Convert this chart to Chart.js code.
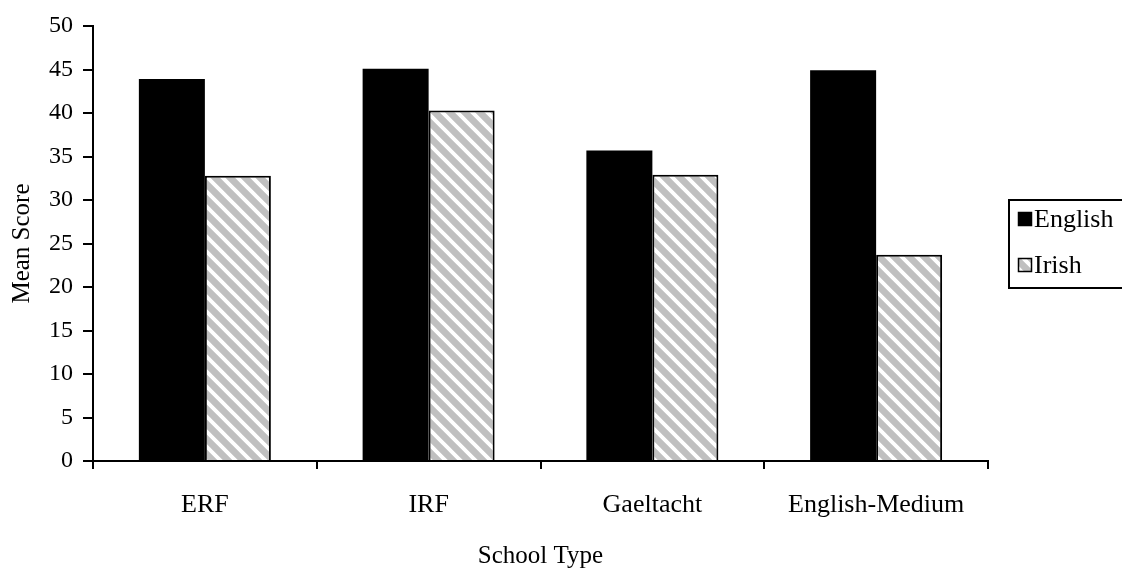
<!DOCTYPE html>
<html>
<head>
<meta charset="utf-8">
<script src="https://cdn.jsdelivr.net/npm/chart.js@4/dist/chart.umd.min.js"></script>
<style>
  html, body { margin: 0; padding: 0; background: #fff; }
  #wrap { width: 1122px; height: 568px; position: relative; }
</style>
</head>
<body>
<div id="wrap"><canvas id="chart"></canvas></div>
<script>
// Mean scores by school type
const categories = ['ERF', 'IRF', 'Gaeltacht', 'English-Medium'];
const englishScores = [43.9, 45.1, 35.7, 44.9];
const irishScores = [32.8, 40.3, 32.9, 23.7];
const seriesNames = ['English', 'Irish'];

const FONT = "'Liberation Serif', 'Times New Roman', serif";
Chart.defaults.font.family = FONT;
Chart.defaults.font.size = 25;
Chart.defaults.color = '#000';

// grey fill with white diagonal stripes running top-left to bottom-right
function makeHatch() {
  const s = 15;
  const c = document.createElement('canvas');
  c.width = s; c.height = s;
  const g = c.getContext('2d');
  g.fillStyle = '#c0c0c0';
  g.fillRect(0, 0, s, s);
  g.strokeStyle = '#ffffff';
  g.lineWidth = 3.8;
  g.beginPath();
  for (let k = -1; k <= 1; k++) {
    g.moveTo(k * s - 2, -2);
    g.lineTo(k * s + s + 2, s + 2);
  }
  g.stroke();
  return g.createPattern(c, 'repeat');
}
const ctx = document.getElementById('chart').getContext('2d');
const hatch = makeHatch();

// boxed legend at the right edge
const boxLegend = {
  id: 'boxLegend',
  afterDraw(chart) {
    const g = chart.ctx;
    g.save();
    g.lineWidth = 2;
    g.strokeStyle = '#000';
    g.strokeRect(1009, 200, 130, 88);
    const rows = [
      { y: 212, fill: '#000', text: seriesNames[0] },
      { y: 258, fill: hatch, text: seriesNames[1] }
    ];
    g.font = '26px ' + FONT;
    g.textBaseline = 'middle';
    rows.forEach(r => {
      g.fillStyle = r.fill;
      g.fillRect(1018, r.y, 14, 14);
      g.lineWidth = 1.5;
      g.strokeStyle = '#000';
      g.strokeRect(1018.5, r.y + 0.5, 13, 13);
      g.fillStyle = '#000';
      g.fillText(r.text, 1034, r.y + 8);
    });
    g.restore();
  }
};

new Chart(ctx, {
  type: 'bar',
  data: {
    labels: categories,
    datasets: [
      {
        label: seriesNames[0],
        data: englishScores,
        backgroundColor: '#000',
        borderColor: '#000',
        borderWidth: 0
      },
      {
        label: seriesNames[1],
        data: irishScores,
        backgroundColor: hatch,
        borderColor: '#000',
        borderWidth: 2
      }
    ]
  },
  options: {
    responsive: true,
    maintainAspectRatio: false,
    animation: false,
    layout: { padding: { top: 26, right: 134, left: 0, bottom: 0 } },
    plugins: {
      legend: { display: false },
      tooltip: { enabled: false }
    },
    datasets: {
      bar: { categoryPercentage: 0.59, barPercentage: 1.0 }
    },
    scales: {
      x: {
        grid: {
          display: true,
          drawOnChartArea: false,
          drawTicks: true,
          tickLength: 8,
          color: '#000',
          lineWidth: 2,
          offset: true
        },
        border: { display: true, color: '#000', width: 2 },
        ticks: { padding: 21, font: { size: 26 }, color: '#000', maxRotation: 0 },
        title: {
          display: true,
          text: 'School Type',
          font: { size: 25 },
          color: '#000',
          padding: { top: 0, bottom: -3 }
        },
        afterFit(scale) { scale.height = 107; }
      },
      y: {
        min: 0,
        max: 50,
        grid: {
          display: true,
          drawOnChartArea: false,
          drawTicks: true,
          tickLength: 10,
          color: '#000',
          lineWidth: 2
        },
        border: { display: true, color: '#000', width: 2 },
        ticks: { stepSize: 5, padding: 10, font: { size: 24 }, color: '#000' },
        title: {
          display: true,
          text: 'Mean Score',
          font: { size: 25 },
          color: '#000',
          padding: { top: 7, bottom: 0 }
        },
        afterFit(scale) { scale.width = 93; }
      }
    }
  },
  plugins: [boxLegend]
});
</script>
</body>
</html>
